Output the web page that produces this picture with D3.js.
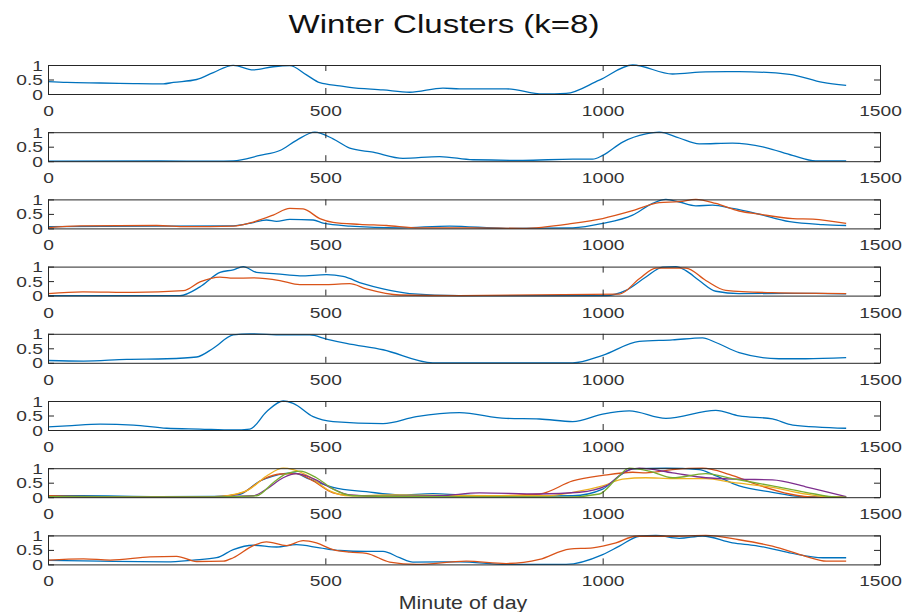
<!DOCTYPE html>
<html>
<head>
<meta charset="utf-8">
<script src="https://cdn.jsdelivr.net/npm/d3@7"></script>
<style>
  html, body { margin: 0; padding: 0; background: #fff; }
  svg { display: block; }
  text { font-family: "Liberation Sans", Arial, Helvetica, sans-serif; }
</style>
</head>
<body>
<svg id="chart" width="908" height="612"></svg>
<script>
// Axis ticks and labels
const xTicks = [0, 500, 1000, 1500];
const xTickLabels = ["0", "500", "1000", "1500"];
const yTicks = [0, 0.5, 1];
const yTickLabels = ["0", "0.5", "1"];
const titleText = "Winter Clusters (k=8)";
const xLabelText = "Minute of day";

// Series colours (default line colour order)
const seriesColors = ["#0072BD", "#D95319", "#EDB120", "#7E2F8E", "#77AC30"];

// Cluster centroid profiles, [minute of day, normalised load]
const c1Blue = [[0,0.43],[34,0.40],[94,0.38],[154,0.36],[208,0.35],[226,0.40],[268,0.50],[298,0.74],[334,0.99],[370,0.83],[406,0.94],[436,0.98],[466,0.66],[490,0.39],[526,0.28],[544,0.23],[604,0.14],[652,0.06],[712,0.20],[742,0.18],[826,0.18],[892,0.0],[934,0.02],[994,0.48],[1054,1.0],[1126,0.69],[1186,0.76],[1246,0.77],[1337,0.68],[1397,0.40],[1439,0.30]];

const c2Blue = [[0,0.0],[200,0.01],[300,0.0],[334,0.01],[382,0.2],[418,0.37],[448,0.72],[481,1.0],[514,0.77],[544,0.45],[586,0.31],[640,0.10],[706,0.16],[766,0.05],[856,0.03],[946,0.07],[982,0.07],[1000,0.2],[1036,0.66],[1078,0.94],[1102,1.0],[1138,0.8],[1174,0.6],[1234,0.62],[1294,0.47],[1342,0.2],[1384,0.01],[1439,0.01]];

const c3Blue = [[0,0.06],[200,0.08],[334,0.09],[370,0.2],[394,0.29],[412,0.24],[436,0.31],[478,0.29],[496,0.18],[544,0.08],[634,0.02],[724,0.08],[826,0.0],[946,0.02],[1000,0.17],[1054,0.46],[1090,0.86],[1114,1.0],[1138,0.91],[1168,0.78],[1198,0.8],[1234,0.69],[1276,0.52],[1337,0.23],[1397,0.13],[1439,0.1]];
const c3Orange = [[0,0.03],[58,0.09],[196,0.1],[250,0.06],[334,0.08],[370,0.22],[406,0.46],[436,0.69],[460,0.67],[490,0.34],[514,0.21],[562,0.14],[610,0.1],[670,0.02],[766,0.02],[856,0.0],[946,0.17],[1000,0.34],[1054,0.61],[1102,0.89],[1138,0.92],[1168,1.0],[1204,0.86],[1246,0.6],[1282,0.49],[1343,0.34],[1379,0.32],[1439,0.17]];

const c4Blue = [[0,0.0],[94,0.0],[238,0.0],[274,0.3],[310,0.8],[334,0.89],[352,1.0],[376,0.8],[412,0.75],[454,0.68],[502,0.72],[532,0.66],[568,0.41],[604,0.23],[652,0.07],[742,0.0],[1006,0.0],[1042,0.18],[1078,0.64],[1108,0.98],[1132,1.0],[1150,0.86],[1174,0.52],[1204,0.15],[1246,0.07],[1384,0.08],[1439,0.06]];
const c4Orange = [[0,0.07],[63,0.13],[154,0.11],[244,0.17],[274,0.47],[310,0.64],[334,0.6],[370,0.61],[418,0.52],[454,0.38],[502,0.38],[544,0.41],[574,0.23],[634,0.02],[742,0.0],[1030,0.05],[1066,0.58],[1096,0.95],[1150,0.95],[1186,0.52],[1222,0.18],[1306,0.1],[1439,0.07]];

const c5Blue = [[0,0.08],[64,0.06],[142,0.12],[214,0.14],[268,0.2],[298,0.5],[334,0.96],[364,1.0],[424,0.96],[472,0.96],[502,0.82],[538,0.67],[604,0.45],[694,0.0],[742,0.0],[946,0.0],[1000,0.26],[1066,0.74],[1126,0.79],[1180,0.86],[1204,0.7],[1246,0.35],[1318,0.14],[1366,0.14],[1439,0.18]];

const c6Blue = [[0,0.11],[34,0.14],[94,0.2],[154,0.17],[214,0.06],[274,0.03],[334,0.0],[364,0.03],[394,0.63],[424,1.0],[442,0.92],[478,0.46],[514,0.29],[604,0.22],[664,0.46],[742,0.6],[826,0.4],[886,0.38],[946,0.29],[1000,0.55],[1048,0.66],[1114,0.4],[1204,0.68],[1246,0.49],[1306,0.38],[1343,0.17],[1439,0.06]];

const c7Blue = [[0,0.05],[60,0.05],[200,0.02],[300,0.03],[346,0.1],[382,0.56],[406,0.73],[442,0.84],[472,0.62],[514,0.34],[574,0.19],[634,0.08],[694,0.12],[742,0.08],[826,0.03],[946,0.05],[1000,0.28],[1030,0.73],[1054,0.98],[1114,1.0],[1174,0.95],[1198,0.79],[1246,0.39],[1306,0.17],[1354,0.03],[1439,0.0]];
const c7Orange = [[0,0.05],[100,0.02],[300,0.02],[352,0.17],[388,0.62],[418,0.8],[448,0.81],[478,0.56],[514,0.15],[544,0.06],[650,0.03],[800,0.05],[886,0.11],[946,0.56],[1000,0.75],[1054,0.86],[1078,0.84],[1126,0.95],[1180,1.0],[1228,0.79],[1276,0.45],[1337,0.11],[1384,0.0],[1439,0.0]];
const c7Yellow = [[0,0.02],[300,0.02],[358,0.22],[394,0.73],[424,1.0],[442,0.95],[472,0.7],[508,0.22],[544,0.05],[622,0.08],[800,0.05],[900,0.05],[946,0.17],[1000,0.39],[1036,0.62],[1078,0.67],[1126,0.64],[1186,0.64],[1234,0.51],[1306,0.34],[1366,0.11],[1413,0.0],[1439,0.0]];
const c7Purple = [[0,0.02],[300,0.01],[370,0.05],[394,0.28],[424,0.67],[448,0.81],[478,0.64],[508,0.34],[544,0.08],[600,0.03],[706,0.05],[778,0.15],[886,0.11],[958,0.17],[1006,0.39],[1042,0.9],[1066,1.0],[1126,0.84],[1186,0.67],[1246,0.62],[1306,0.6],[1366,0.36],[1439,0.02]];
const c7Green = [[0,0.02],[300,0.01],[376,0.05],[406,0.5],[430,0.81],[454,0.9],[484,0.67],[514,0.28],[550,0.05],[700,0.02],[934,0.0],[994,0.11],[1024,0.62],[1048,1.0],[1084,0.9],[1126,0.67],[1186,0.81],[1234,0.64],[1306,0.39],[1366,0.17],[1426,0.0],[1439,0.0]];

const c8Blue = [[0,0.14],[94,0.11],[214,0.09],[262,0.15],[304,0.23],[334,0.51],[370,0.66],[412,0.6],[448,0.68],[490,0.57],[526,0.48],[574,0.45],[604,0.45],[634,0.23],[658,0.08],[742,0.09],[826,0.0],[934,0.0],[1000,0.34],[1030,0.63],[1066,0.97],[1096,1.0],[1138,0.9],[1180,0.98],[1234,0.74],[1276,0.65],[1337,0.4],[1397,0.23],[1439,0.23]];
const c8Orange = [[0,0.15],[64,0.19],[112,0.15],[184,0.26],[232,0.28],[268,0.1],[316,0.11],[334,0.23],[370,0.65],[394,0.78],[430,0.65],[460,0.82],[484,0.74],[514,0.51],[544,0.42],[574,0.38],[616,0.08],[664,0.0],[754,0.11],[826,0.03],[886,0.17],[940,0.53],[982,0.57],[1024,0.74],[1060,0.97],[1126,0.97],[1186,1.0],[1246,0.85],[1306,0.63],[1366,0.28],[1403,0.11],[1439,0.11]];

// One panel per cluster; each lists its centroid lines in colour order
const clusters = [
  [c1Blue],
  [c2Blue],
  [c3Blue, c3Orange],
  [c4Blue, c4Orange],
  [c5Blue],
  [c6Blue],
  [c7Blue, c7Orange, c7Yellow, c7Purple, c7Green],
  [c8Blue, c8Orange]
];

// ---- layout ----
const svg = d3.select("#chart");
const left = 48, right = 880;
const firstTop = 65, panelStep = 67.2, panelH = 29;
const tickLen = 6;
const axisColor = "#262626";
const labelColor = "#333333";
const tickFont = 15, textStretch = 1.28;

const x = d3.scaleLinear().domain([0, 1500]).range([left, right]);

function styleAxis(g) {
  g.selectAll("path.domain").attr("stroke", axisColor).attr("stroke-width", 1);
  g.selectAll(".tick line").attr("stroke", axisColor).attr("stroke-width", 1);
  g.selectAll("text")
    .attr("fill", labelColor)
    .attr("font-size", tickFont)
    .attr("font-family", '"Liberation Sans", Arial, Helvetica, sans-serif');
}

clusters.forEach((series, i) => {
  const top = firstTop + i * panelStep;
  const bottom = top + panelH;
  const y = d3.scaleLinear().domain([0, 1]).range([bottom, top]);
  const panel = svg.append("g").attr("class", "panel");

  // centroid lines
  const line = d3.line()
    .x(d => x(d[0]))
    .y(d => y(d[1]))
    .curve(d3.curveMonotoneX);

  panel.selectAll("path.series")
    .data(series)
    .join("path")
    .attr("class", "series")
    .attr("d", line)
    .attr("fill", "none")
    .attr("stroke", (d, k) => seriesColors[k])
    .attr("stroke-width", 1.3)
    .attr("stroke-linejoin", "round");

  // box with inward ticks on all four sides
  const gBottom = panel.append("g")
    .attr("transform", `translate(0,${bottom})`)
    .call(d3.axisBottom(x).tickValues(xTicks)
      .tickFormat((d, k) => xTickLabels[k])
      .tickSizeInner(-tickLen).tickSizeOuter(0));
  styleAxis(gBottom);
  gBottom.selectAll("text")
    .attr("y", 22).attr("dy", null)
    .attr("transform", `scale(${textStretch},1)`);

  const gTop = panel.append("g")
    .attr("transform", `translate(0,${top})`)
    .call(d3.axisTop(x).tickValues(xTicks).tickFormat("")
      .tickSizeInner(-tickLen).tickSizeOuter(0));
  styleAxis(gTop);

  const gLeft = panel.append("g")
    .attr("transform", `translate(${left},0)`)
    .call(d3.axisLeft(y).tickValues(yTicks)
      .tickFormat((d, k) => yTickLabels[k])
      .tickSizeInner(-tickLen).tickSizeOuter(0));
  styleAxis(gLeft);
  gLeft.selectAll("text")
    .attr("x", -5 / textStretch).attr("dy", null).attr("y", 5)
    .attr("transform", `scale(${textStretch},1)`);

  const gRight = panel.append("g")
    .attr("transform", `translate(${right},0)`)
    .call(d3.axisRight(y).tickValues(yTicks).tickFormat("")
      .tickSizeInner(-tickLen).tickSizeOuter(0));
  styleAxis(gRight);
});

// figure title
svg.append("text")
  .attr("transform", `translate(444,32.5) scale(1.27,1)`)
  .attr("text-anchor", "middle")
  .attr("font-size", 26)
  .attr("fill", "#111111")
  .text(titleText);

// shared x-axis label under the last panel
svg.append("text")
  .attr("transform", `translate(463,608.5) scale(1.19,1)`)
  .attr("text-anchor", "middle")
  .attr("font-size", 18)
  .attr("fill", labelColor)
  .text(xLabelText);
</script>
</body>
</html>
